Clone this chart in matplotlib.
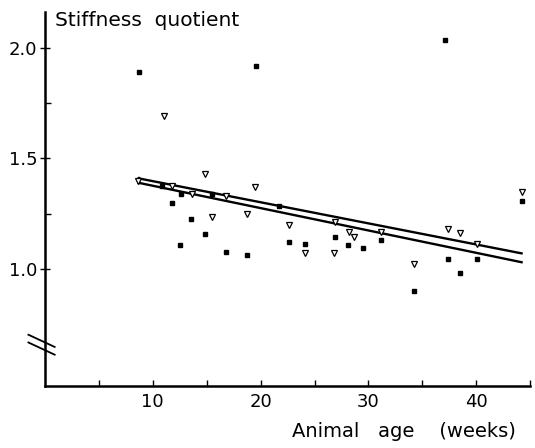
import matplotlib
matplotlib.use("Agg")
import matplotlib.pyplot as plt

plt.rcParams['font.family'] = ['DejaVu Sans']

# filled squares (week, stiffness quotient)
sq_age = [8.7, 19.6, 37.1, 10.9, 12.6, 15.5, 11.8, 13.5, 14.8, 12.5, 16.8, 18.7,
          21.7, 22.6, 24.1, 26.9, 28.1, 29.5, 31.2, 34.2, 37.4, 38.5, 40.1, 44.2]
sq_val = [1.89, 1.915, 2.035, 1.375, 1.34, 1.34, 1.30, 1.225, 1.16, 1.11, 1.08, 1.065,
          1.285, 1.125, 1.115, 1.145, 1.108, 1.095, 1.13, 0.90, 1.045, 0.985, 1.045, 1.31]

# open triangles
tri_age = [8.6, 11.0, 14.8, 19.5, 11.8, 13.6, 16.8, 15.5, 18.7, 22.6, 24.1,
           26.9, 26.8, 28.2, 28.7, 31.2, 34.2, 37.4, 38.5, 40.1, 44.2]
tri_val = [1.40, 1.69, 1.43, 1.37, 1.375, 1.34, 1.33, 1.235, 1.25, 1.20, 1.072,
           1.215, 1.075, 1.167, 1.145, 1.17, 1.023, 1.18, 1.162, 1.113, 1.347]

# regression lines
fit_age = [8.7, 44.2]
fit_upper = [1.41, 1.072]
fit_lower = [1.39, 1.032]

x_major = [10, 20, 30, 40]
x_minor = [5, 15, 25, 35, 45]

fig = plt.figure(figsize=(5.35, 4.48), dpi=100)
ax = fig.add_axes([0.084, 0.138, 0.907, 0.835])

ax.plot(fit_age, fit_upper, color='black', lw=1.7)
ax.plot(fit_age, fit_lower, color='black', lw=1.7)
ax.plot([fit_age[0], fit_age[0]], [fit_lower[0], fit_upper[0]], color='black', lw=1.7)

ax.plot(sq_age, sq_val, 's', color='black', ms=3.2, ls='none')
ax.plot(tri_age, tri_val, 'v', mfc='white', mec='black', mew=0.9, ms=4.5, ls='none')

ax.set_xlim(0, 45)
ax.set_ylim(0.473, 2.16)
ax.set_xticks(x_major)
ax.set_xticks(x_minor, minor=True)
ax.set_yticks([1.0, 1.5, 2.0])
ax.set_yticklabels(['1.0', '1.5', '2.0'])
ax.set_yticks([1.25, 1.75], minor=True)

for s in ['top', 'right']:
    ax.spines[s].set_visible(False)
for s in ['left', 'bottom']:
    ax.spines[s].set_linewidth(1.8)

ax.tick_params(axis='x', which='both', direction='in', length=4, width=1, labelsize=13, pad=5)
ax.tick_params(axis='y', which='major', direction='inout', length=7, width=1, labelsize=13, pad=2)
ax.tick_params(axis='y', which='minor', direction='in', length=4, width=1)

# axis break marks
tr = ax.get_yaxis_transform()
for dy in [0.0, 0.035]:
    ax.plot([-0.034, 0.02], [0.67 + dy, 0.615 + dy], transform=tr, color='black',
            lw=1.3, clip_on=False)

ax.text(0.02, 1.003, 'Stiffness  quotient', transform=ax.transAxes, fontsize=14.5,
        ha='left', va='top')
ax.text(0.97, -0.12, 'Animal   age    (weeks)', transform=ax.transAxes, fontsize=14,
        ha='right', va='center')

fig.savefig('out.png', dpi=100)
